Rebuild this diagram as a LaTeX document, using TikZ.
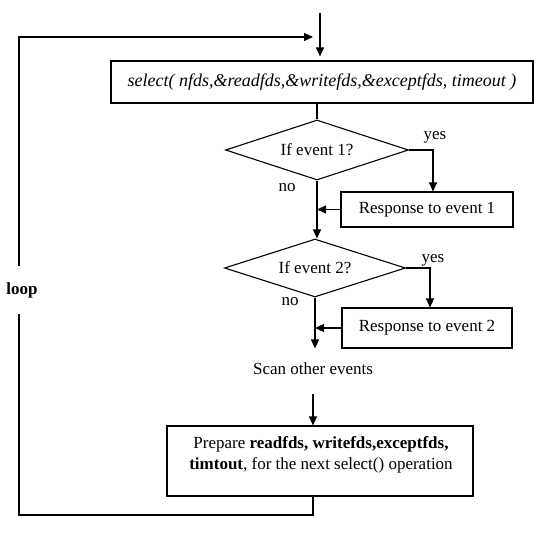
\documentclass[tikz,border=0pt]{standalone}
\usepackage{fontspec}
\setmainfont{Liberation Serif}
\usetikzlibrary{arrows.meta,shapes.geometric}
\begin{document}
\begin{tikzpicture}[x=1pt,y=-1pt,
  line width=1.1pt,
  arr/.style={-{Triangle[length=9pt,width=8pt]}},
  txt/.style={font=\fontsize{17}{21}\selectfont, inner sep=0pt},
  box/.style={draw, rectangle, inner sep=0pt, font=\fontsize{17}{21}\selectfont},
  dia/.style={draw, diamond, aspect=3, inner sep=0pt, font=\fontsize{17}{21}\selectfont}
]
\useasboundingbox (0,0) rectangle (556,538);
\fill[white] (0,0) rectangle (556,538);

% nodes
\node[box, minimum width=422pt, minimum height=42pt, font=\fontsize{18}{21}\selectfont] (sel) at (322,82)
  {\itshape select( nfds,\&readfds,\&writefds,\&exceptfds, timeout )};
\node[dia, minimum width=183pt, minimum height=60pt] (d1) at (317,150) {If event 1?};
\node[box, minimum width=172pt, minimum height=35pt] (r1) at (427,209.5) {Response to event 1};
\node[dia, minimum width=181pt, minimum height=58pt] (d2) at (315,268) {If event 2?};
\node[box, minimum width=170pt, minimum height=40pt] (r2) at (427,328) {Response to event 2};
\node[txt, minimum height=40pt] (scan) at (313,369) {Scan other events};
\node[box, minimum width=306pt, minimum height=70pt] (prep) at (320,461) {};
\node[txt, align=center] (preptext) at (321,454.5)
  {Prepare \textbf{readfds, writefds,exceptfds,}\\\textbf{timtout}, for the next select() operation};

\node[txt] (yes1) at (435,137) {yes};
\node[txt] (yes2) at (433,260) {yes};
\node[txt] (no1) at (287,188) {no};
\node[txt] (no2) at (290,302) {no};

% coordinates
\coordinate (top) at (320,13);
\coordinate (y1) at (433,150);
\coordinate (y2) at (430,268);
\coordinate (pb) at (scan.south |- prep.south);
\coordinate (lb) at (19,515);
\coordinate (lt) at (19,37);
\coordinate (le) at (313,37);

% connectors
\draw[arr, shorten >=4pt] (top) -- (top |- sel.north);
\draw (d1.north |- sel.south) -- (d1.north);
\draw[arr] (d1.east) -- (y1) -- (y1 |- r1.north);
\draw[arr] (r1.west) -- (r1.west -| d1.south);
\draw[arr] (d1.south) -- (d1.south |- d2.north);
\draw[arr] (d2.east) -- (y2) -- (y2 |- r2.north);
\draw[arr] (r2.west) -- (r2.west -| d2.south);
\draw[arr] (d2.south) -- (d2.south |- scan.north);
\draw[arr, shorten <=4pt] (scan.south) -- (scan.south |- prep.north);
\draw[arr] (pb) -- (pb |- lb) -- (lb) -- (lt) -- (le);

\node[txt, fill=white, minimum height=48pt, inner xsep=2pt] (loop) at (22,290) {\textbf{loop}};
\end{tikzpicture}
\end{document}
